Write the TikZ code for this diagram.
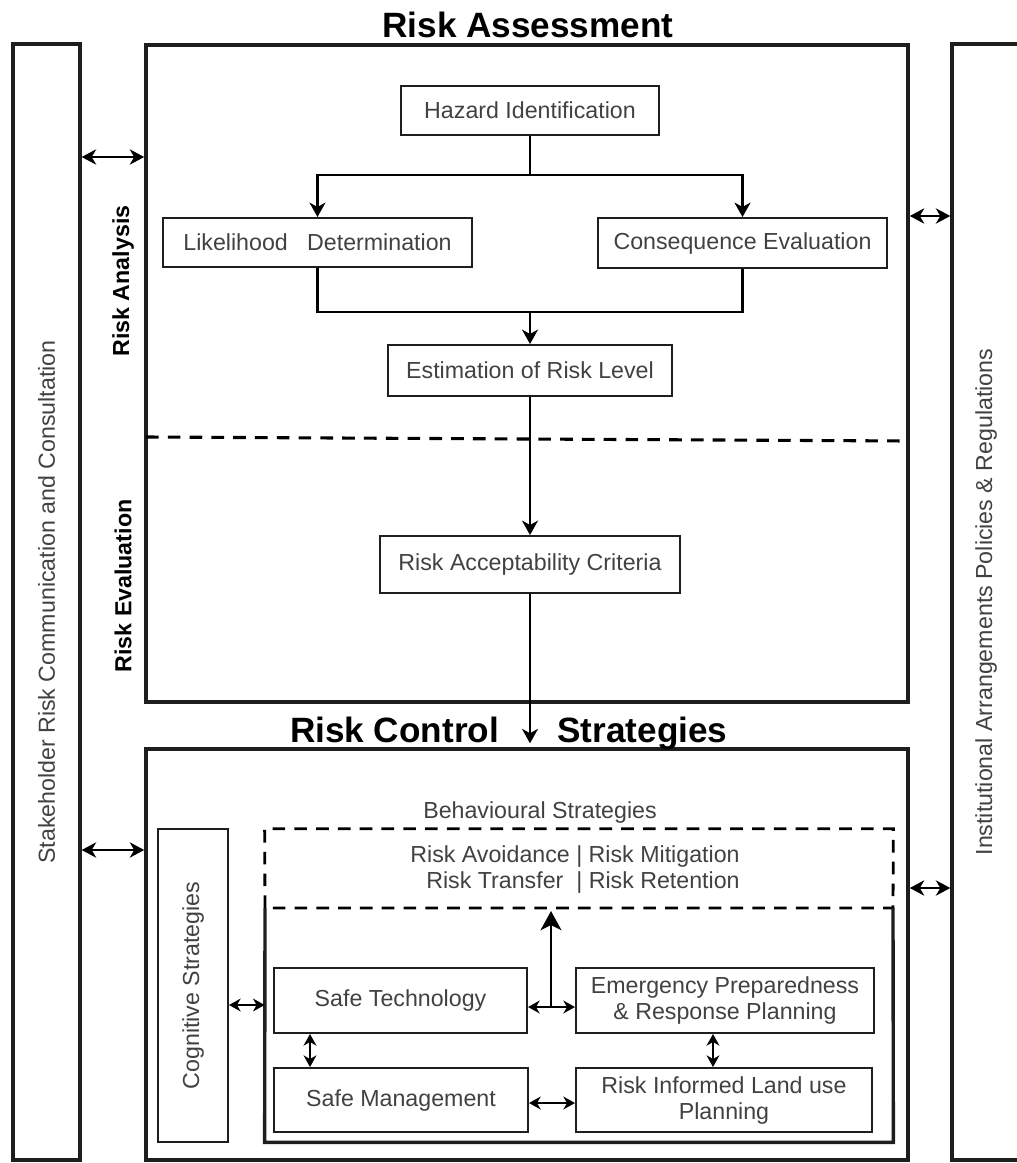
\documentclass[tikz,border=0pt]{standalone}
\usepackage{fontspec}
\setmainfont{Liberation Sans}
\usetikzlibrary{arrows.meta,positioning,calc}
\definecolor{ink}{RGB}{65,65,65}
\definecolor{frame}{RGB}{30,30,30}
\tikzset{
  >={Stealth[length=3.6mm,width=4mm,inset=1.1mm]},
  box/.style={draw=frame,line width=1.4pt,text=ink,align=center,
    font=\fontsize{16.5}{18.5}\selectfont,inner sep=2pt},
  note/.style={text=ink,align=center,font=\fontsize{16.5}{18.5}\selectfont,inner sep=0pt},
  panel/.style={draw=frame,line width=2.4pt},
  side/.style={panel,text=ink,rotate=90,font=\fontsize{16.5}{18.5}\selectfont},
  heading/.style={font=\fontsize{25}{30}\selectfont\bfseries,text=black,inner sep=0pt},
  phase/.style={font=\fontsize{16.5}{18.5}\selectfont\bfseries,rotate=90,inner sep=0pt},
  flow/.style={->,line width=2.1pt,draw=black},
  rise/.style={-{Stealth[length=4.8mm,width=5.2mm,inset=1.3mm]},line width=2.1pt,draw=black},
  link/.style={{Stealth[length=3.6mm,width=3.8mm,inset=1.1mm]}-{Stealth[length=3.6mm,width=3.8mm,inset=1.1mm]},line width=2.1pt,draw=black},
  small link/.style={{Stealth[length=2.9mm,width=3.2mm,inset=0.9mm]}-{Stealth[length=2.9mm,width=3.2mm,inset=0.9mm]},line width=1.9pt,draw=black},
  divider/.style={line width=2.2pt,dash pattern=on 9pt off 6.5pt},
}

\begin{document}
\begin{tikzpicture}[x=0.025cm,y=-0.025cm]
  \useasboundingbox (0,0) rectangle (1017,1163);
  \clip (0,0) rectangle (1017,1163);
  % side columns
  \node[side,minimum width=27.9cm,minimum height=1.675cm] (sh) at (46.5,602) {Stakeholder Risk Communication and Consultation};
  \node[side,minimum width=27.9cm,minimum height=1.7cm] (inst) at (986,602) {Institutional Arrangements Policies \& Regulations};

  % risk assessment
  \node[panel,minimum width=19.05cm,minimum height=16.425cm] (ra) at (527,373.5) {};
  \node[heading,anchor=base] at (528,38) {Risk Assessment};
  \node[phase] at (123,281) {Risk Analysis};
  \node[phase] at (123,586) {Risk Evaluation};
  \draw[divider] (146,437) -- (908,441);

  \node[box,minimum width=6.45cm,minimum height=1.225cm] (haz) at (530,110.5) {Hazard Identification};
  \node[box,minimum width=7.725cm,minimum height=1.225cm] (lik) at (317.5,242.5) {Likelihood\ \ \ Determination};
  \node[box,minimum width=7.225cm,minimum height=1.25cm] (con) at (742.5,243) {Consequence Evaluation};
  \node[box,minimum width=7.075cm,minimum height=1.275cm] (est) at (530,370.5) {Estimation of Risk Level};
  \node[box,minimum width=7.475cm,minimum height=1.425cm] (acc) at (530,564.5) {Risk Acceptability Criteria};

  \coordinate (split) at (530,175);
  \coordinate (merge) at (530,312);
  \draw[line width=2.1pt] (haz) -- (split);
  \draw[flow] (split) -| (lik);
  \draw[flow] (split) -| (con);
  \draw[line width=2.1pt] (lik) |- (merge) -| (con);
  \draw[flow] (merge) -- (est);
  \draw[flow] (est) -- (acc);

  % risk control strategies
  \node[panel,minimum width=19.05cm,minimum height=10.275cm] (rc) at (527,954.5) {};
  \node[heading,anchor=base] at (394.5,742) {Risk Control};
  \node[heading,anchor=base] at (642.5,742) {Strategies};
  \draw[flow] (acc) -- ([yshift=1mm]acc |- rc.north);

  \foreach \n/\y in {ra/157,rc/850}
    \draw[link] (sh.south |- 0,\y) -- (\n.west |- 0,\y);
  \foreach \n/\y in {ra/216,rc/888}
    \draw[link] (\n.east |- 0,\y) -- (inst.north |- 0,\y);

  \node[box,rotate=90,minimum width=7.825cm,minimum height=1.75cm] (cog) at (193,985.5) {Cognitive Strategies};
  \node[minimum width=15.7cm,minimum height=7.825cm,inner sep=0pt] (beh) at (579,985.5) {};
  \node[note,anchor=base] at (540,818) {Behavioural Strategies};
  \coordinate (bl) at (265,908);
  \coordinate (br) at (893,908);
  \draw[divider,line width=2pt] (bl) -- (beh.north west) -- (beh.north east) -- (br) -- cycle;
  \draw[panel] (bl) -- (beh.south west) -- (beh.south east) -- (br);
  \node[note] (opt) at (575,870) {\begin{tabular}{@{}r@{\ }l@{}}Risk Avoidance & | Risk Mitigation\\ Risk Transfer\ \ & | Risk Retention\end{tabular}};

  \node[box,minimum width=6.325cm,minimum height=1.625cm] (st) at (400.5,1000.5) {Safe Technology};
  \node[box,minimum width=7.45cm,minimum height=1.625cm] (em) at (725,1000.5) {Emergency Preparedness\\\& Response Planning};
  \node[box,minimum width=6.35cm,minimum height=1.6cm] (sm) at (401,1100) {Safe Management};
  \node[box,minimum width=7.4cm,minimum height=1.6cm] (ri) at (724,1100) {Risk Informed Land use\\Planning};

  \coordinate (hub) at (551,1007);
  \draw[small link] (cog.south |- 0,1005) -- (beh.west |- 0,1005);
  \draw[small link] (st.south -| 310,0) -- (sm.north -| 310,0);
  \draw[small link] (em.south -| 713,0) -- (ri.north -| 713,0);
  \draw[small link] (st.east |- hub) -- (em.west |- hub);
  \draw[small link] (sm.east |- 0,1103) -- (ri.west |- 0,1103);
  \draw[rise] (hub) -- (hub |- 0,911);
\end{tikzpicture}
\end{document}
